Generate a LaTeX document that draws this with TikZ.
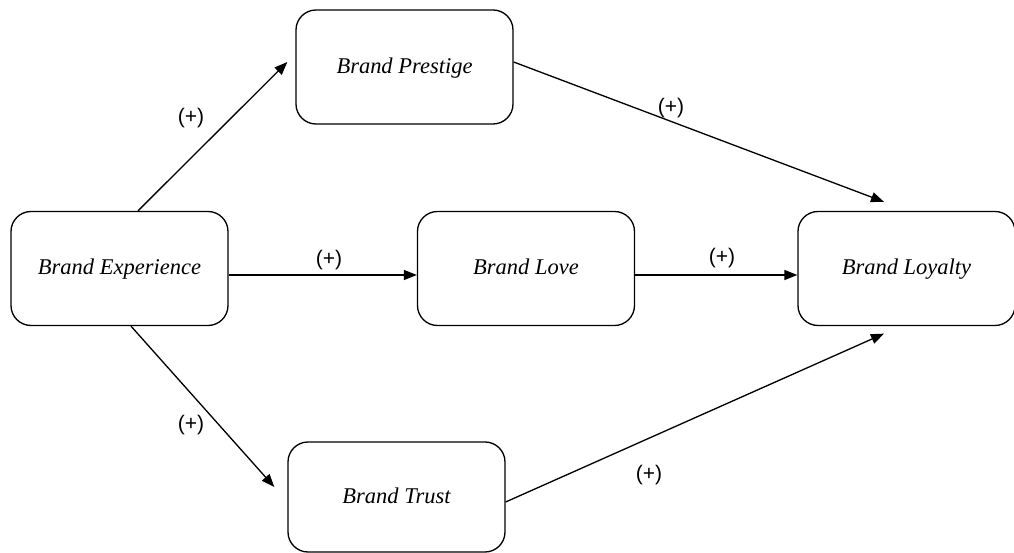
\documentclass[tikz,border=0pt]{standalone}
\usepackage{fontspec}
\setmainfont{Liberation Serif}
\newfontfamily\labelfont{Liberation Sans}
\usetikzlibrary{arrows.meta}

\begin{document}
\begin{tikzpicture}[
  box/.style={draw, line width=0.75pt, rounded corners=0.4cm, minimum width=4.34cm, minimum height=2.28cm, align=center, text height=1.6ex, text depth=0ex, font=\fontsize{12.8}{15}\selectfont\itshape},
  link/.style={line width=0.75pt, -{Triangle[length=0.26cm, width=0.2cm]}},
  sign/.style={font=\labelfont\fontsize{12}{14}\selectfont}
]
\useasboundingbox (0,0) rectangle (20.28,11.06);
\node[box] (prestige) at (8.09,9.72) {Brand Prestige};
\node[box] (experience) at (2.39,5.69) {Brand Experience};
\node[box] (love) at (10.52,5.69) {Brand Love};
\node[box] (loyalty) at (18.13,5.69) {Brand Loyalty};
\node[box, minimum height=2.2cm] (trust) at (7.93,1.12) {Brand Trust};
\draw[link] ([xshift=0.37cm]experience.north) -- ([shift={(-0.16,0.1)}]prestige.west);
\draw[link] ([yshift=0.1cm]prestige.east) -- ([shift={(-0.45,0.18)}]loyalty.north);
\draw[link] ([yshift=-0.13cm]experience.east) -- ([yshift=-0.13cm]love.west);
\draw[link] ([yshift=-0.13cm]love.east) -- ([yshift=-0.13cm]loyalty.west);
\draw[link] ([xshift=0.23cm]experience.south) -- ([shift={(-0.26,0.2)}]trust.west);
\draw[link] ([yshift=-0.1cm]trust.east) -- ([shift={(-0.45,-0.15)}]loyalty.south);
\node[sign] (s1) at (3.82,8.70) {(+)};
\node[sign] (s2) at (13.42,8.90) {(+)};
\node[sign] (s3) at (6.58,5.86) {(+)};
\node[sign] (s4) at (14.44,5.90) {(+)};
\node[sign] (s5) at (3.82,2.56) {(+)};
\node[sign] (s6) at (12.98,1.56) {(+)};
\end{tikzpicture}
\end{document}
